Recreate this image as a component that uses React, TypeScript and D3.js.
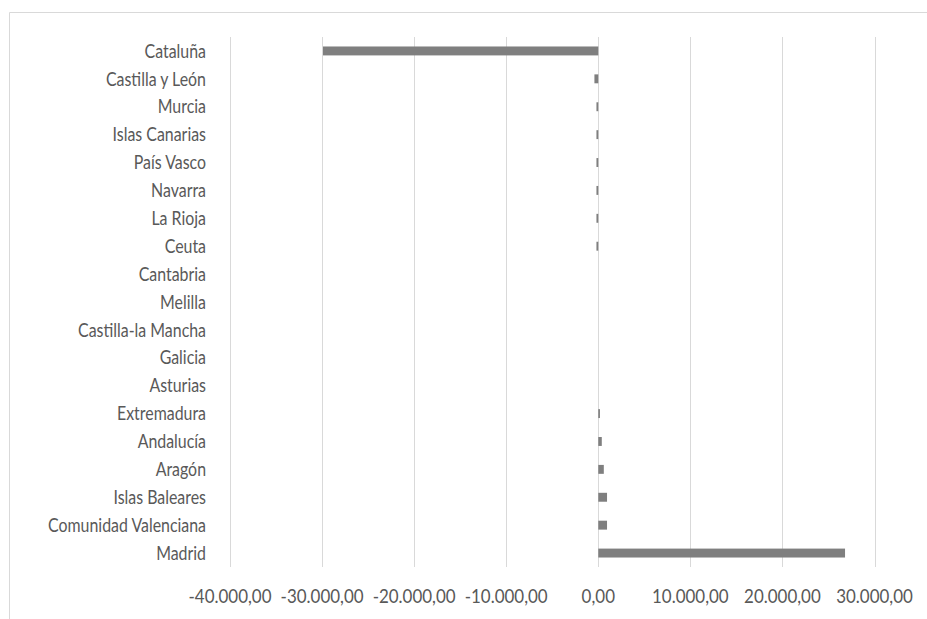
import React, { useEffect, useRef } from "react";
import * as d3 from "d3";

const categories = [
  "Cataluña", "Castilla y León", "Murcia", "Islas Canarias", "País Vasco", "Navarra",
  "La Rioja", "Ceuta", "Cantabria", "Melilla", "Castilla-la Mancha", "Galicia",
  "Asturias", "Extremadura", "Andalucía", "Aragón", "Islas Baleares",
  "Comunidad Valenciana", "Madrid",
];
const values = [
  -29900, -420, -200, -200, -200, -200, -200, -200, 0, 0, 0, 0, 0,
  180, 380, 600, 950, 950, 26800,
];
const xTicks = [-40000, -30000, -20000, -10000, 0, 10000, 20000, 30000];

const fmt = (v: number) => {
  const s = Math.abs(v).toFixed(2).split(".");
  const int = s[0].replace(/\B(?=(\d{3})+(?!\d))/g, ".");
  return (v < 0 ? "-" : "") + int + "," + s[1];
};

export default function App() {
  const ref = useRef<SVGSVGElement>(null);
  useEffect(() => {
    const svg = d3.select(ref.current);
    svg.selectAll("*").remove();
    const font = "Lato, 'Open Sans', sans-serif";
    const fs = 19;
    const x = d3.scaleLinear().domain([-40000, 30000]).range([230, 874.5]);
    const y = d3.scaleBand().domain(categories).range([37, 567]).paddingInner(0.68).paddingOuter(0.34);

    svg.append("path").attr("d", "M9.5,619 V12.5 H927").attr("fill", "none").attr("stroke", "#d9d9d9").attr("stroke-width", 1);

    svg.append("g").selectAll("line").data(xTicks).join("line")
      .attr("x1", d => Math.round(x(d)) + 0.5).attr("x2", d => Math.round(x(d)) + 0.5)
      .attr("y1", 37).attr("y2", 567).attr("stroke", "#d9d9d9");

    svg.append("g").selectAll("rect").data(values).join("rect")
      .attr("x", d => x(Math.min(0, d)))
      .attr("width", d => Math.abs(x(d) - x(0)))
      .attr("y", (d, i) => y(categories[i])!)
      .attr("height", y.bandwidth())
      .attr("fill", "#7f7f7f");

    const cat = svg.append("g").selectAll("text").data(categories).join("text")
      .attr("x", 0).attr("y", 0)
      .attr("dy", "0.35em").attr("text-anchor", "end")
      .attr("font-family", font).attr("font-size", fs).attr("fill", "#595959")
      .text(d => d);
    const widest = (cat.nodes() as SVGTextElement[])[categories.indexOf("Comunidad Valenciana")].getComputedTextLength();
    const sx = 158 / widest;
    cat.attr("transform", d => `translate(206,${y(d)! + y.bandwidth() / 2}) scale(${sx},1)`);

    const tk = svg.append("g").selectAll("text").data(xTicks).join("text")
      .attr("x", 0).attr("y", 0).attr("dy", "0.35em").attr("text-anchor", "middle")
      .attr("font-family", font).attr("font-size", fs).attr("fill", "#595959")
      .text(d => fmt(d));
    const tw = (tk.nodes() as SVGTextElement[])[0].getComputedTextLength();
    const sx2 = 83 / tw;
    tk.attr("transform", d => `translate(${x(d)},596.5) scale(${sx2},1)`);
  }, []);
  return (
    <svg ref={ref} width={927} height={619}
      style={{ position: "absolute", left: 0, top: 0, background: "#fff" }} />
  );
}
